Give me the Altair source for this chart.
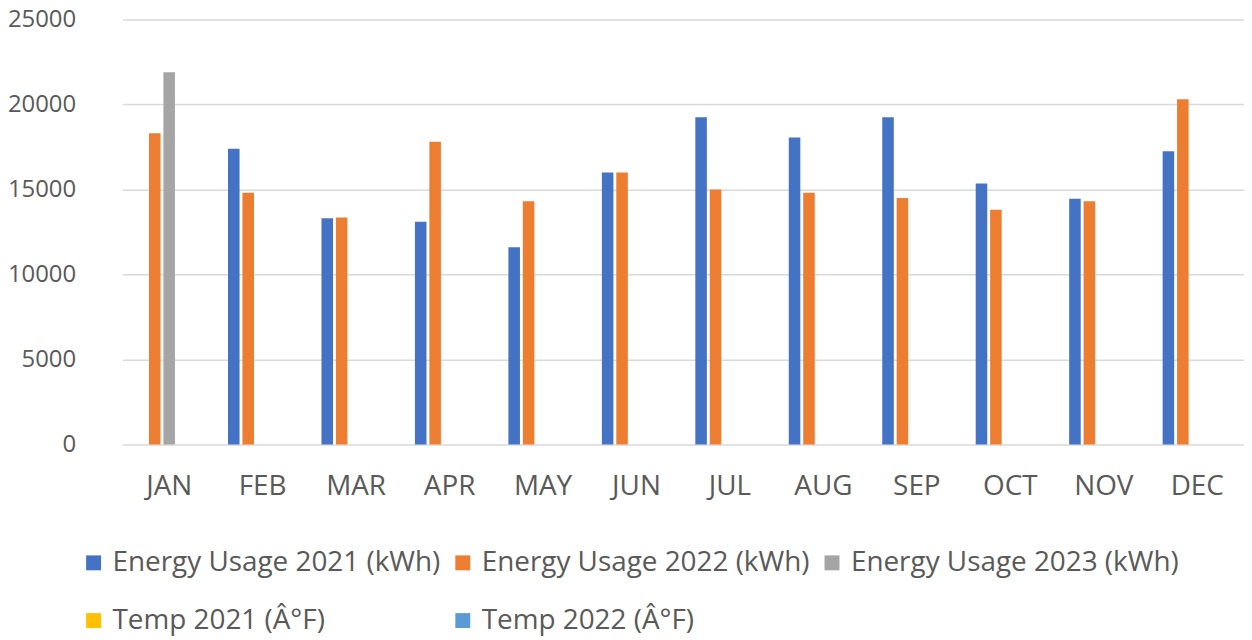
import altair as alt
import pandas as pd

months = ["JAN", "FEB", "MAR", "APR", "MAY", "JUN", "JUL", "AUG", "SEP", "OCT", "NOV", "DEC"]
series_names = [
    "Energy Usage 2021 (kWh)",
    "Energy Usage 2022 (kWh)",
    "Energy Usage 2023 (kWh)",
    "Temp 2021 (Â°F)",
    "Temp 2022 (Â°F)",
]
series_colors = ["#4472C4", "#ED7D31", "#A5A5A5", "#FFC000", "#5B9BD5"]

usage_2021 = [None, 17400, 13300, 13100, 11600, 16000, 19250, 18050, 19250, 15350, 14450, 17250]
usage_2022 = [18300, 14800, 13350, 17800, 14300, 16000, 15000, 14800, 14500, 13800, 14300, 20300]
usage_2023 = [21900, None, None, None, None, None, None, None, None, None, None, None]
temp_2021 = [None] * 12
temp_2022 = [None] * 12

all_values = [usage_2021, usage_2022, usage_2023, temp_2021, temp_2022]

rows = []
for name, vals in zip(series_names, all_values):
    for m, v in zip(months, vals):
        if v is not None:
            rows.append({"month": m, "series": name, "value": v})
df = pd.DataFrame(rows)

FONT = "Open Sans"
TXT = "#595959"

chart = alt.Chart(df).mark_bar().encode(
    x=alt.X("month:N", sort=months,
            scale=alt.Scale(domain=months, paddingInner=0.228, paddingOuter=0.114),
            axis=alt.Axis(title=None, labelAngle=0, ticks=False, domain=False, grid=False,
                          labelPadding=28, labelFontSize=28, labelColor=TXT,
                          labelFont=FONT)),
    xOffset=alt.XOffset("series:N",
                        scale=alt.Scale(domain=series_names, paddingInner=0.2, paddingOuter=0.1)),
    y=alt.Y("value:Q",
            scale=alt.Scale(domain=[0, 25000], nice=False),
            axis=alt.Axis(title=None, values=[0, 5000, 10000, 15000, 20000, 25000],
                          format="d",
                          ticks=False, domain=False, labelPadding=47,
                          labelFontSize=24, labelColor=TXT, labelFont=FONT,
                          gridColor="#d9d9d9", gridWidth=1.5)),
    color=alt.Color("series:N",
                    scale=alt.Scale(domain=series_names, range=series_colors),
                    legend=alt.Legend(title=None, orient="none", legendX=-43, legendY=532,
                                      direction="horizontal", columns=3,
                                      symbolType="square", symbolSize=225,
                                      symbolStrokeWidth=0, labelOffset=5,
                                      labelFontSize=28, labelColor=TXT, labelFont=FONT,
                                      columnPadding=8, rowPadding=30, padding=0,
                                      labelLimit=600)),
).properties(
    width=1127,
    height=427,
    autosize=alt.AutoSizeParams(type="none"),
    padding={"left": 115, "top": 10, "right": 0, "bottom": 194},
).configure(background="white").configure_view(stroke=None)

chart.save("out.html", embed_options={"renderer": "svg", "actions": False})
